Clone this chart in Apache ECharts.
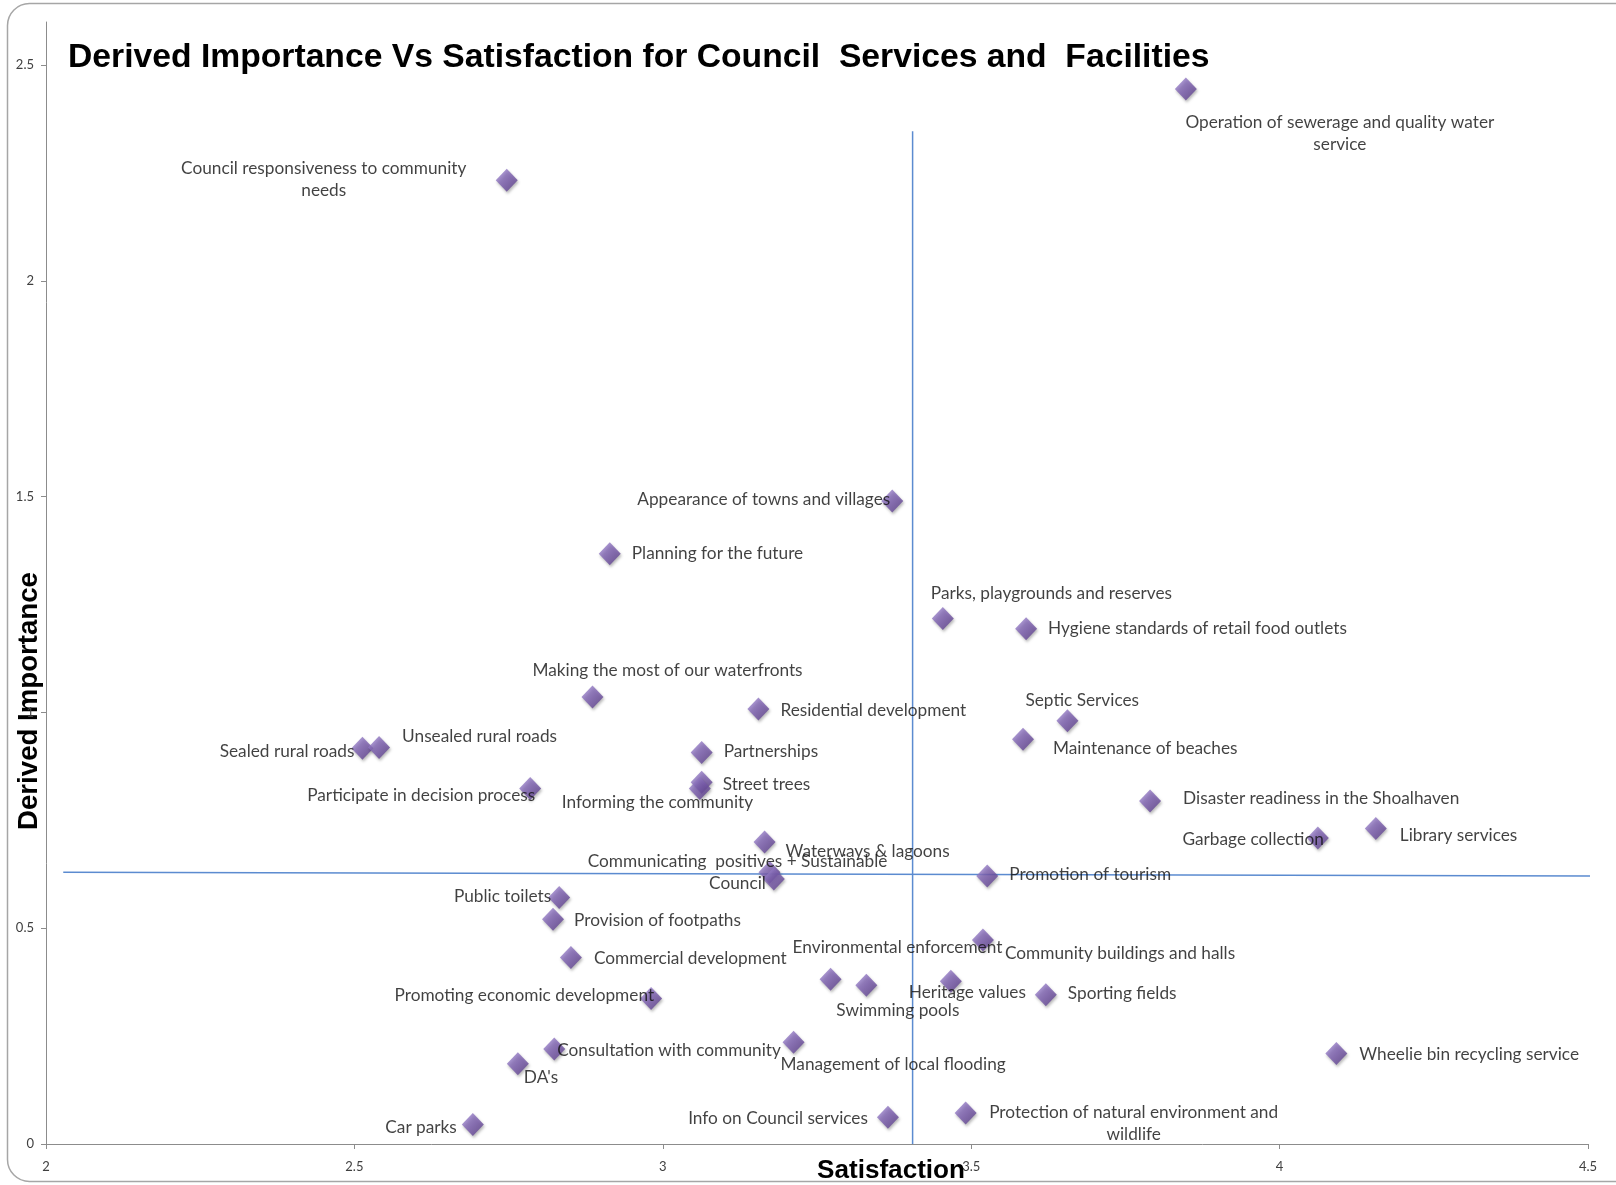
<!DOCTYPE html>
<html>
<head>
<meta charset="utf-8">
<script src="https://cdn.jsdelivr.net/npm/echarts@6/dist/echarts.min.js"></script>
<style>
html,body{margin:0;padding:0;background:#fff;}
#chart{width:1616px;height:1185px;}
</style>
</head>
<body>
<div id="chart"></div>
<script>
// ---- data ----
const names = [
  "Operation of sewerage and quality water service",
  "Council responsiveness to community needs",
  "Appearance of towns and villages",
  "Planning for the future",
  "Parks, playgrounds and reserves",
  "Hygiene standards of retail food outlets",
  "Making the most of our waterfronts",
  "Residential development",
  "Septic Services",
  "Maintenance of beaches",
  "Sealed rural roads",
  "Unsealed rural roads",
  "Partnerships",
  "Street trees",
  "Informing the community",
  "Participate in decision process",
  "Disaster readiness in the Shoalhaven",
  "Library services",
  "Garbage collection",
  "Waterways & lagoons",
  "Communicating  positives + Sustainable Council",
  "",
  "Promotion of tourism",
  "Public toilets",
  "Provision of footpaths",
  "Community buildings and halls",
  "Commercial development",
  "Environmental enforcement",
  "Swimming pools",
  "Heritage values",
  "Sporting fields",
  "Promoting economic development",
  "Management of local flooding",
  "Consultation with community",
  "Wheelie bin recycling service",
  "DA's",
  "Info on Council services",
  "Protection of natural environment and wildlife",
  "Car parks"
];
const labelTexts = names.map(n => ({
  "Operation of sewerage and quality water service": "Operation of sewerage and quality water\nservice",
  "Council responsiveness to community needs": "Council responsiveness to community\nneeds",
  "Communicating  positives + Sustainable Council": "Communicating  positives + Sustainable\nCouncil",
  "Protection of natural environment and wildlife": "Protection of natural environment and\nwildlife"
}[n] || n));
const satisfaction = [3.848, 2.747, 3.372, 2.914, 3.454, 3.589, 2.886, 3.155, 3.656, 3.584,
  2.513, 2.540, 3.063, 3.063, 3.060, 2.785, 3.790, 4.156, 4.062, 3.165,
  3.173, 3.180, 3.526, 2.832, 2.822, 3.519, 2.851, 3.272, 3.330, 3.467,
  3.621, 2.981, 3.212, 2.824, 4.092, 2.765, 3.365, 3.491, 2.692];
const importance = [2.445, 2.233, 1.490, 1.368, 1.218, 1.194, 1.036, 1.008, 0.981, 0.938,
  0.917, 0.919, 0.907, 0.838, 0.824, 0.824, 0.795, 0.731, 0.709, 0.700,
  0.630, 0.614, 0.621, 0.571, 0.521, 0.473, 0.432, 0.382, 0.368, 0.377,
  0.346, 0.337, 0.236, 0.220, 0.210, 0.186, 0.062, 0.072, 0.045];
const xTicks = [2, 2.5, 3, 3.5, 4, 4.5];
const yTicks = [0, 0.5, 1, 1.5, 2, 2.5];
const vLine = [[3.405, 0], [3.405, 2.347]];
const hLine = [[2.028, 0.630], [4.52, 0.621]];

// ---- label layout (align, dx, dy in px) ----
const labelLayout = [
  ['center',154,45],['center',-183,-1],['right',-2,-2],['left',22,0],['left',-12,-25],
  ['left',22,0],['left',-60,-26],['left',22,1],['left',-42,-20],['left',30,9],
  ['right',-8,3],['left',23,-11],['left',22,-1],['left',21,2],['left',-138,14],
  ['right',5,7],['left',33,-2],['left',24,7],['right',6,1],['left',21,10],
  ['center',-32,0],null,['left',22,-2],['right',-8,-1],['left',21,1],
  ['left',22,14],['left',23,1],['left',-38,-32],['left',-30,25],['left',-42,11],
  ['left',22,-1],['right',3,-3],['left',-13,22],['left',3,1],['left',23,1],
  ['left',6,14],['right',-20,1],['center',168,11],['right',-16,3]
];

function fit(text, family, weight, target) {
  const c = document.createElement('canvas').getContext('2d');
  c.font = weight + ' 100px ' + family;
  return 100 * target / c.measureText(text).width;
}
const LABEL_FONT = 'Lato';
const TITLE_FONT = '"Liberation Sans Narrow", "Liberation Sans", sans-serif';
const labelSize = fit('Hygiene standards of retail food outlets', LABEL_FONT, 'normal', 299);
const titleText = 'Derived Importance Vs Satisfaction for Council  Services and  Facilities';
const titleSize = fit(titleText, TITLE_FONT, 'bold', 1142);
const xNameSize = fit('Satisfaction', TITLE_FONT, 'bold', 148);
const yNameSize = fit('Derived Importance', TITLE_FONT, 'bold', 258);

const diamondColor = new echarts.graphic.LinearGradient(0, 0, 1, 1, [
  {offset: 0, color: '#a793d6'},
  {offset: 0.5, color: '#7a5cae'},
  {offset: 1, color: '#52357f'}
]);

const points = names.map((n, i) => {
  const lay = labelLayout[i];
  return {
    name: n,
    value: [satisfaction[i], importance[i]],
    label: lay ? {
      show: true, position: 'inside', formatter: labelTexts[i],
      align: lay[0], verticalAlign: 'middle', offset: [lay[1], lay[2]]
    } : {show: false}
  };
});

const chart = echarts.init(document.getElementById('chart'), null, {renderer: 'canvas'});
chart.setOption({
  animation: false,
  title: {
    text: titleText, left: 68, top: 58 - titleSize / 2, padding: 0,
    textStyle: {fontFamily: TITLE_FONT, fontWeight: 'bold', fontSize: titleSize, lineHeight: titleSize, color: '#000'}
  },
  grid: {left: 46, right: 28, top: 22, bottom: 41, containLabel: false},
  xAxis: {
    type: 'value', min: 2, max: 4.5, interval: 0.5,
    splitLine: {show: false},
    axisLine: {show: true, lineStyle: {color: '#8c8c8c', width: 1}},
    axisTick: {show: true, length: 5, lineStyle: {color: '#8c8c8c'}, customValues: xTicks},
    axisLabel: {margin: 16, color: '#404040', fontSize: 13, fontFamily: LABEL_FONT, customValues: xTicks}
  },
  yAxis: {
    type: 'value', min: 0, max: 2.6, interval: 0.5,
    splitLine: {show: false},
    axisLine: {show: true, lineStyle: {color: '#8c8c8c', width: 1}},
    axisTick: {show: true, length: 5, lineStyle: {color: '#8c8c8c'}, customValues: yTicks},
    axisLabel: {margin: 12, color: '#404040', fontSize: 13, fontFamily: LABEL_FONT, customValues: yTicks}
  },
  graphic: [
    {type: 'rect', shape: {x: 7.5, y: 3.5, width: 1640, height: 1178, r: 22},
     style: {fill: 'none', stroke: '#a6a6a6', lineWidth: 1.5}, z: 0, silent: true},
    {type: 'text', x: 891, y: 1171,
     style: {text: 'Satisfaction', font: 'bold ' + xNameSize + 'px ' + TITLE_FONT, fill: '#000', align: 'center', verticalAlign: 'middle'}},
    {type: 'text', x: 29, y: 701, rotation: Math.PI / 2,
     style: {text: 'Derived Importance', font: 'bold ' + yNameSize + 'px ' + TITLE_FONT, fill: '#000', align: 'center', verticalAlign: 'middle'}}
  ],
  series: [
    {type: 'line', data: vLine, symbol: 'none', clip: false, z: 1, silent: true,
     lineStyle: {color: '#5b8bd0', width: 1.5}},
    {type: 'line', data: hLine, symbol: 'none', clip: false, z: 1, silent: true,
     lineStyle: {color: '#5b8bd0', width: 1.5}},
    {type: 'scatter', z: 3, symbol: 'diamond', symbolSize: [22, 23],
     itemStyle: {color: diamondColor, shadowBlur: 3, shadowColor: 'rgba(0,0,0,0.35)', shadowOffsetY: 2, shadowOffsetX: 1},
     label: {color: '#111', fontSize: labelSize, fontFamily: LABEL_FONT, lineHeight: 22},
     data: points}
  ]
});
</script>
</body>
</html>
